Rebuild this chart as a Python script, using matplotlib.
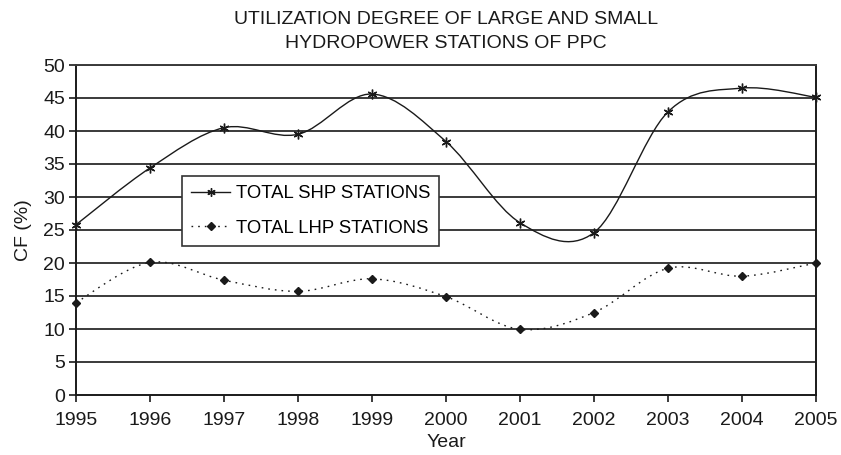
import numpy as np
import matplotlib
matplotlib.use("Agg")
import matplotlib.pyplot as plt
from matplotlib.path import Path
from matplotlib.patches import PathPatch

plt.rcParams['font.family'] = ['Liberation Sans', 'DejaVu Sans']

years = [1995, 1996, 1997, 1998, 1999, 2000, 2001, 2002, 2003, 2004, 2005]
shp = [25.8, 34.4, 40.5, 39.5, 45.6, 38.4, 26.1, 24.6, 42.9, 46.5, 45.1]
lhp = [14.0, 20.1, 17.4, 15.7, 17.6, 14.9, 9.95, 12.5, 19.2, 18.0, 20.0]
yticks = [0, 5, 10, 15, 20, 25, 30, 35, 40, 45, 50]
title_lines = ["UTILIZATION DEGREE OF LARGE AND SMALL", "HYDROPOWER STATIONS OF PPC"]
labels = ["TOTAL SHP STATIONS", "TOTAL LHP STATIONS"]


def smooth_path(xs, ys):
    """Excel-like smoothed line: cubic Bezier segments through the points."""
    xs = np.asarray(xs, float)
    ys = np.asarray(ys, float)
    n = len(xs)
    verts = [(xs[0], ys[0])]
    codes = [Path.MOVETO]
    for i in range(n - 1):
        i0 = max(i - 1, 0)
        i3 = min(i + 2, n - 1)
        c1 = (xs[i] + (xs[i + 1] - xs[i0]) / 6, ys[i] + (ys[i + 1] - ys[i0]) / 6)
        c2 = (xs[i + 1] - (xs[i3] - xs[i]) / 6, ys[i + 1] - (ys[i3] - ys[i]) / 6)
        verts += [c1, c2, (xs[i + 1], ys[i + 1])]
        codes += [Path.CURVE4] * 3
    return Path(verts, codes)


fig = plt.figure(figsize=(8.41, 4.55), dpi=100)
ax = fig.add_axes([76 / 841, 1 - 395 / 455, 740 / 841, 330 / 455])

ink = '#1a1a1a'
for yv in yticks[1:]:
    ax.axhline(yv, color='#3a3a3a', lw=1.4, zorder=1)

dots = (0, (1.2, 3.6))
p1 = PathPatch(smooth_path(years, shp), fill=False, ec=ink, lw=1.0, zorder=3)
p2 = PathPatch(smooth_path(years, lhp), fill=False, ec=ink, lw=1.0, ls=dots, zorder=3)
ax.add_patch(p1)
ax.add_patch(p2)

ast = (6, 2, 0)
ax.plot(years, shp, ls='none', marker=ast, ms=7, mec=ink, mew=1.0, zorder=4, clip_on=False)
ax.plot(years, lhp, ls='none', marker='D', ms=4.5, mfc=ink, mec=ink, zorder=4, clip_on=False)

h1, = ax.plot([], [], color=ink, lw=1.0, marker=ast, ms=6, mew=1.0)
h2, = ax.plot([], [], color=ink, lw=1.0, ls=dots, marker='D', ms=4.5)
leg = ax.legend([h1, h2], labels, loc='upper left',
                bbox_to_anchor=((182 - 76) / 740, (395 - 176) / 330),
                fontsize=13.3, frameon=True, fancybox=False, handlelength=2.1,
                handletextpad=0.3, borderpad=0.5, labelspacing=0.95,
                borderaxespad=0)
leg.get_frame().set_edgecolor('#333333')
leg.get_frame().set_linewidth(1.2)
leg.get_frame().set_facecolor('white')
leg.get_frame().set_alpha(1)
leg.set_zorder(5)

ax.set_xlim(years[0], years[-1])
ax.set_ylim(0, 50)
ax.set_xticks(years)
ax.set_yticks(yticks)
ax.tick_params(axis='both', direction='out', length=5, width=1.2, colors=ink,
               labelsize=14)
ax.tick_params(axis='x', pad=7)
ax.tick_params(axis='y', pad=3)
for s in ax.spines.values():
    s.set_color(ink)
    s.set_linewidth(1.4)
ax.spines['top'].set_color('#3a3a3a')

ax.set_xlabel('Year', fontsize=14, color=ink, labelpad=4)
ax.set_ylabel('CF (%)', fontsize=14, color=ink, labelpad=8)
fig.text(446 / 841, 1 - 19 / 455, title_lines[0], ha='center', va='center',
         fontsize=14, color=ink)
fig.text(446 / 841, 1 - 43 / 455, title_lines[1], ha='center', va='center',
         fontsize=14, color=ink)

fig.savefig('out.png', dpi=100)
